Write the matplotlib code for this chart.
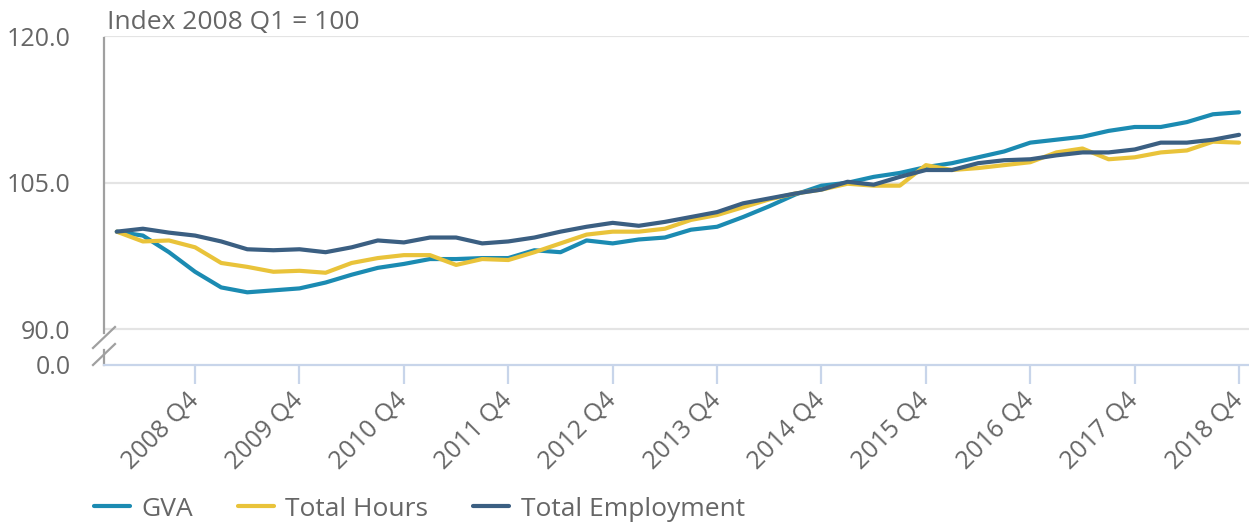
import matplotlib
matplotlib.use("Agg")
import matplotlib.pyplot as plt

# quarters 2008 Q1 .. 2018 Q4
quarters = [f"{y} Q{q}" for y in range(2008, 2019) for q in range(1, 5)]

gva = [100.0, 99.6, 97.9, 95.9, 94.3, 93.8, 94.0, 94.2, 94.8, 95.6,
       96.3, 96.7, 97.2, 97.2, 97.3, 97.3, 98.1, 97.9, 99.1, 98.8,
       99.2, 99.4, 100.2, 100.5, 101.5, 102.6, 103.8, 104.7, 105.0, 105.6,
       106.0, 106.6, 107.0, 107.6, 108.2, 109.1, 109.4, 109.7, 110.3, 110.7,
       110.7, 111.2, 112.0, 112.2]
hours = [100.0, 99.0, 99.1, 98.4, 96.8, 96.4, 95.9, 96.0, 95.8, 96.8,
         97.3, 97.6, 97.6, 96.6, 97.2, 97.1, 97.9, 98.8, 99.7, 100.0,
         100.0, 100.3, 101.2, 101.7, 102.5, 103.3, 103.9, 104.3, 104.9, 104.7,
         104.7, 106.8, 106.3, 106.5, 106.8, 107.1, 108.1, 108.5, 107.4, 107.6,
         108.1, 108.3, 109.2, 109.1]
employment = [100.0, 100.3, 99.9, 99.6, 99.0, 98.2, 98.1, 98.2, 97.9, 98.4,
              99.1, 98.9, 99.4, 99.4, 98.8, 99.0, 99.4, 100.0, 100.5, 100.9,
              100.6, 101.0, 101.5, 102.0, 102.9, 103.4, 103.9, 104.3, 105.1, 104.8,
              105.6, 106.3, 106.3, 107.0, 107.3, 107.4, 107.8, 108.1, 108.1, 108.4,
              109.1, 109.1, 109.4, 109.9]

ytick_vals = [90, 105, 120]
ytick_labels = ["90.0", "105.0", "120.0"]
y_floor = 86.37   # where the "0.0" baseline sits after the axis break

plt.rcParams["font.family"] = ["Open Sans", "DejaVu Sans"]
txt = "#666666"

fig = plt.figure(figsize=(12.49, 5.24), dpi=100)
ax = fig.add_axes([104 / 1249, 1 - 365 / 524, 1145 / 1249, 329 / 524])

x = list(range(len(quarters)))
ax.plot(x, gva, color="#1b8bb2", lw=3, label="GVA", solid_capstyle="round")
ax.plot(x, hours, color="#e9c33a", lw=3, label="Total Hours", solid_capstyle="round")
ax.plot(x, employment, color="#3b5f82", lw=3, label="Total Employment",
        solid_capstyle="round")

ax.set_xlim(-0.49, 43.38)
ax.set_ylim(y_floor, 120)

# horizontal grid only at the labelled values
for v in ytick_vals:
    ax.axhline(v, color="#e4e4e4", lw=1.6, zorder=0)

ax.set_yticks(ytick_vals + [y_floor])
ax.set_yticklabels(ytick_labels + ["0.0"])
ax.tick_params(axis="y", length=0, pad=24, labelsize=18, labelcolor=txt)

q4 = [i for i, q in enumerate(quarters) if q.endswith("Q4")]
ax.set_xticks(q4)
ax.set_xticklabels([quarters[i] for i in q4], rotation=45, ha="right",
                   va="center", rotation_mode="anchor")
ax.tick_params(axis="x", length=14, width=1.6, color="#c8d5ea", pad=9,
               labelsize=18, labelcolor=txt)

for s in ["top", "right", "left"]:
    ax.spines[s].set_visible(False)
ax.spines["bottom"].set_color("#c8d5ea")
ax.spines["bottom"].set_linewidth(1.6)

# broken left axis
sc = "#a0a0a0"
ax.plot([0, 0], [0.097, 0.994], transform=ax.transAxes, color=sc, lw=1.6,
        clip_on=False)
ax.plot([0, 0], [0.0, 0.046], transform=ax.transAxes, color=sc, lw=1.6,
        clip_on=False)
d = 0.0096
ax.plot([-d, d], [0.0517, 0.1155], transform=ax.transAxes, color=sc, lw=1.6,
        clip_on=False)
ax.plot([-d, d], [0.0, 0.0638], transform=ax.transAxes, color=sc, lw=1.6,
        clip_on=False)

fig.text(107 / 1249, 1 - 29 / 524, "Index 2008 Q1 = 100", fontsize=19,
         color=txt, va="baseline", ha="left")

leg = fig.legend(loc="center left", bbox_to_anchor=(94 / 1249, 1 - 509 / 524),
                 ncol=3, frameon=False, fontsize=19, handlelength=1.35,
                 handletextpad=0.45, columnspacing=1.7, borderaxespad=0,
                 borderpad=0)
for t in leg.get_texts():
    t.set_color(txt)

fig.savefig("out.png", dpi=100)
